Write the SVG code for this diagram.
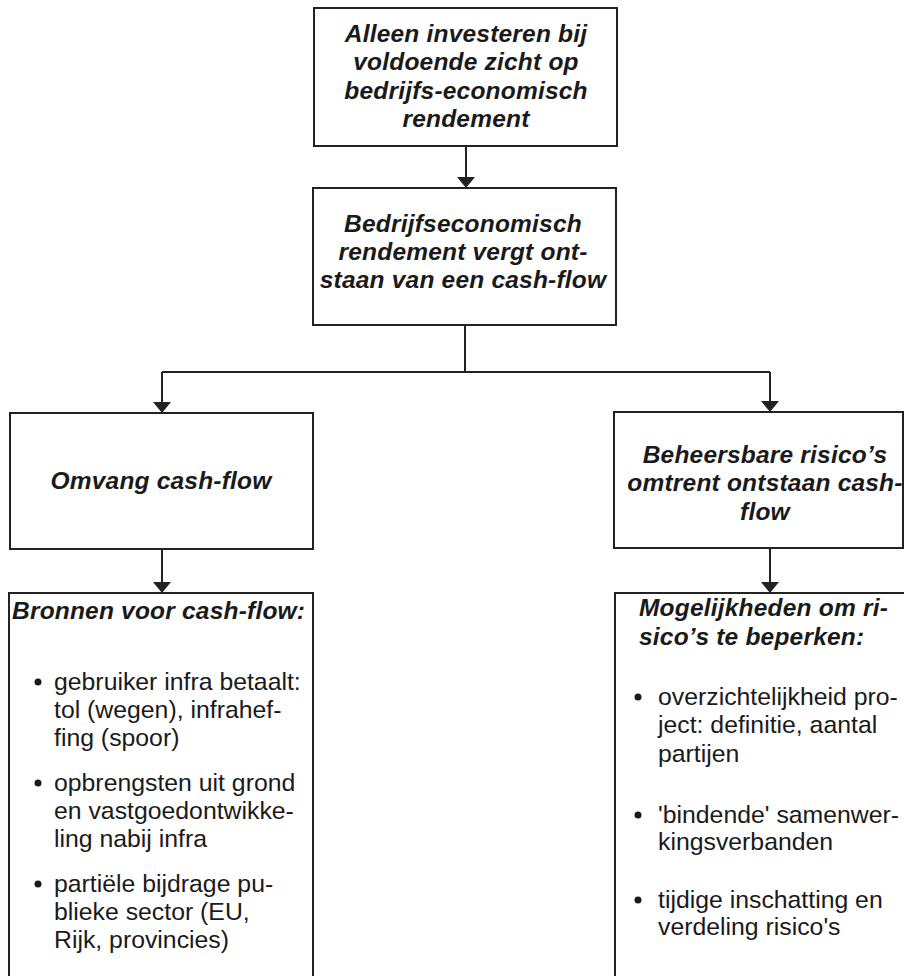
<svg xmlns="http://www.w3.org/2000/svg" width="904" height="976" viewBox="0 0 904 976">
<defs>
<style>
.box{fill:#fff;stroke:#222;stroke-width:2}
.ln{fill:none;stroke:#222;stroke-width:2}
.ah{fill:#222}
.h{font-family:"Liberation Sans",Arial,sans-serif;font-weight:bold;font-style:italic;font-size:24.5px;letter-spacing:0.2px;fill:#1a1a1a}
.c{text-anchor:middle}
.b{font-family:"Liberation Sans",Arial,sans-serif;font-size:24.8px;fill:#1a1a1a}
.dot{fill:#1a1a1a}
</style>
</defs>
<rect width="904" height="976" fill="#fff"/>
<g id="connectors">
<line class="ln" x1="466" y1="146" x2="466" y2="180"/>
<polygon class="ah" points="457,177 475,177 466,188"/>
<line class="ln" x1="465" y1="325" x2="465" y2="372"/>
<line class="ln" x1="162" y1="372" x2="770" y2="372"/>
<line class="ln" x1="162" y1="372" x2="162" y2="405"/>
<polygon class="ah" points="153,402 171,402 162,413"/>
<line class="ln" x1="770" y1="372" x2="770" y2="404"/>
<polygon class="ah" points="761,401 779,401 770,412"/>
<line class="ln" x1="162" y1="549" x2="162" y2="585"/>
<polygon class="ah" points="153,582 171,582 162,593"/>
<line class="ln" x1="770" y1="548" x2="770" y2="585"/>
<polygon class="ah" points="761,582 779,582 770,593"/>
</g>
<g id="n1">
<rect class="box" x="314" y="8" width="303" height="138"/>
<text class="h c" x="466" y="42">Alleen investeren bij</text>
<text class="h c" x="466" y="70">voldoende zicht op</text>
<text class="h c" x="466" y="99">bedrijfs-economisch</text>
<text class="h c" x="466" y="127">rendement</text>
</g>
<g id="n2">
<rect class="box" x="313" y="188" width="303" height="137"/>
<text class="h c" x="463" y="232">Bedrijfseconomisch</text>
<text class="h c" x="463" y="260">rendement vergt ont-</text>
<text class="h c" x="463" y="288">staan van een cash-flow</text>
</g>
<g id="n3">
<rect class="box" x="10" y="413" width="303" height="136"/>
<text class="h c" x="161" y="489">Omvang cash-flow</text>
</g>
<g id="n4">
<rect class="box" x="614" y="412" width="289" height="136"/>
<text class="h c" x="765" y="463">Beheersbare risico’s</text>
<text class="h c" x="765" y="491">omtrent ontstaan cash-</text>
<text class="h c" x="765" y="520">flow</text>
</g>
<g id="n5">
<rect class="box" x="9" y="593" width="304" height="400"/>
<text class="h" x="12" y="619">Bronnen voor cash-flow:</text>
<circle class="dot" cx="38" cy="682" r="3.5"/>
<text class="b" x="54" y="690">gebruiker infra betaalt:</text>
<text class="b" x="54" y="718">tol (wegen), infrahef-</text>
<text class="b" x="54" y="746">fing (spoor)</text>
<circle class="dot" cx="38" cy="783" r="3.5"/>
<text class="b" x="54" y="791">opbrengsten uit grond</text>
<text class="b" x="54" y="819">en vastgoedontwikke-</text>
<text class="b" x="54" y="847">ling nabij infra</text>
<circle class="dot" cx="38" cy="884" r="3.5"/>
<text class="b" x="54" y="892">partiële bijdrage pu-</text>
<text class="b" x="54" y="920">blieke sector (EU,</text>
<text class="b" x="54" y="948">Rijk, provincies)</text>
</g>
<g id="n6">
<rect class="box" x="615" y="593" width="300" height="400"/>
<text class="h" x="639" y="616">Mogelijkheden om ri-</text>
<text class="h" x="639" y="645">sico’s te beperken:</text>
<circle class="dot" cx="638" cy="697" r="3.5"/>
<text class="b" x="658" y="705">overzichtelijkheid pro-</text>
<text class="b" x="658" y="733">ject: definitie, aantal</text>
<text class="b" x="658" y="762">partijen</text>
<circle class="dot" cx="638" cy="815" r="3.5"/>
<text class="b" x="658" y="823">'bindende' samenwer-</text>
<text class="b" x="658" y="850">kingsverbanden</text>
<circle class="dot" cx="638" cy="900" r="3.5"/>
<text class="b" x="658" y="908">tijdige inschatting en</text>
<text class="b" x="658" y="935">verdeling risico's</text>
</g>
</svg>
